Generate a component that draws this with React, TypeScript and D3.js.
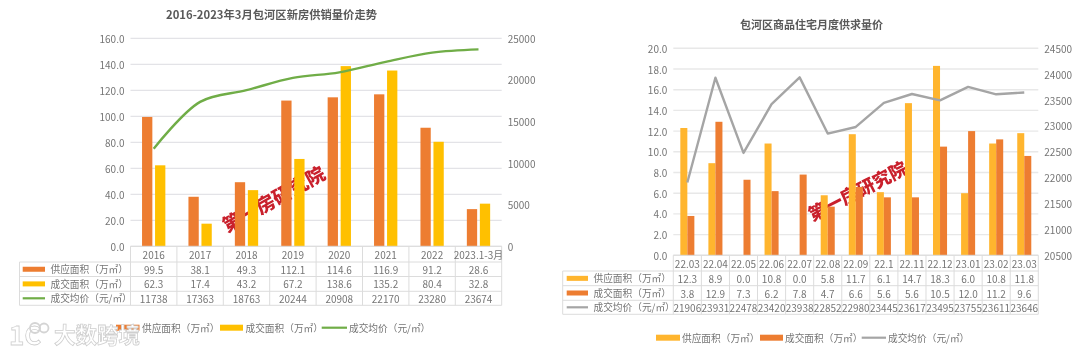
import React from "react";
import * as d3 from "d3";

// ---- left chart data
const yearCats = ["2016", "2017", "2018", "2019", "2020", "2021", "2022", "2023.1-3月"];
const yearSupply = [99.5, 38.1, 49.3, 112.1, 114.6, 116.9, 91.2, 28.6];
const yearDeal = [62.3, 17.4, 43.2, 67.2, 138.6, 135.2, 80.4, 32.8];
const yearPrice = [11738, 17363, 18763, 20244, 20908, 22170, 23280, 23674];
const yearAreaTicks = [0, 20, 40, 60, 80, 100, 120, 140, 160];
const yearPriceTicks = [0, 5000, 10000, 15000, 20000, 25000];

// ---- right chart data
const monthCats = ["22.03", "22.04", "22.05", "22.06", "22.07", "22.08", "22.09", "22.1", "22.11", "22.12", "23.01", "23.02", "23.03"];
const monthSupply = [12.3, 8.9, 0.0, 10.8, 0.0, 5.8, 11.7, 6.1, 14.7, 18.3, 6.0, 10.8, 11.8];
const monthDeal = [3.8, 12.9, 7.3, 6.2, 7.8, 4.7, 6.6, 5.6, 5.6, 10.5, 12.0, 11.2, 9.6];
const monthPrice = [21906, 23931, 22478, 23420, 23938, 22852, 22980, 23445, 23617, 23495, 23755, 23611, 23646];
const monthAreaTicks = [0, 2, 4, 6, 8, 10, 12, 14, 16, 18, 20];
const monthPriceTicks = [20500, 21000, 21500, 22000, 22500, 23000, 23500, 24000, 24500];

const FONT = "'Noto Sans CJK SC', 'Noto Sans', sans-serif";
const TXT = "#757575";
const ORANGE = "#ED7D31";
const AMBER = "#FFC000";
const GOLD = "#FFB52E";
const GREEN = "#70AD47";
const GRAY = "#A5A5A5";
const SUPPLY = "供应面积（万㎡）";
const DEAL = "成交面积（万㎡）";
const PRICE = "成交均价（元/㎡）";

type Series = { name: string; color: string; values: number[] };
type PanelProps = {
  cats: string[];
  bars: Series[];
  line: Series;
  areaTicks: number[];
  priceTicks: number[];
  plot: { l: number; r: number; t: number; b: number };
  tableL: number;
  rows: number[];
  swatchX: [number, number];
  labelX: number;
  outer: number;
  inner: number;
  smooth: boolean;
  gridColor: string;
  gridWidth: number;
  title: string;
  titleX: number;
  titleY: number;
  titleSize: number;
  legendY: number;
  legendItems: [number, number, number][];
  stamp: { x: number; y: number; angle: number; size: number };
  fs: number;
};

function Panel(p: PanelProps) {
  const x = d3.scaleBand<string>().domain(p.cats).range([p.plot.l, p.plot.r]);
  const sub = d3
    .scaleBand<string>()
    .domain(p.bars.map((b) => b.name))
    .range([0, x.bandwidth()])
    .paddingInner(p.inner)
    .paddingOuter(p.outer);
  const yL = d3
    .scaleLinear()
    .domain([p.areaTicks[0], p.areaTicks[p.areaTicks.length - 1]])
    .range([p.plot.b, p.plot.t]);
  const yR = d3
    .scaleLinear()
    .domain([p.priceTicks[0], p.priceTicks[p.priceTicks.length - 1]])
    .range([p.plot.b, p.plot.t]);
  const lineGen = d3
    .line<number>()
    .x((_, i) => x(p.cats[i])! + x.bandwidth() / 2)
    .y((d) => yR(d))
    .curve(p.smooth ? d3.curveCatmullRom.alpha(0.5) : d3.curveLinear);
  const f1 = d3.format(".1f");
  const rowSeries = [...p.bars, p.line];
  const tableColor = "#dcdcdc";
  return (
    <g fontFamily={FONT}>
      <text x={p.titleX} y={p.titleY} textAnchor="middle" fontSize={p.titleSize} fontWeight={700} fill="#595959">
        {p.title}
      </text>
      {p.areaTicks.map((t) => (
        <line key={t} x1={p.plot.l} x2={p.plot.r} y1={yL(t)} y2={yL(t)} stroke={p.gridColor} strokeWidth={p.gridWidth} />
      ))}
      <text
        transform={`translate(${p.stamp.x},${p.stamp.y}) rotate(${p.stamp.angle})`}
        textAnchor="middle"
        dominantBaseline="central"
        fontSize={p.stamp.size}
        fontWeight={900}
        fill="#c9202c"
        stroke="#ffffff"
        strokeWidth={1.4}
        paintOrder="stroke"
      >
        第一房研究院
      </text>
      {p.bars.map((s) =>
        s.values.map((v, i) => (
          <rect
            key={s.name + i}
            x={x(p.cats[i])! + sub(s.name)!}
            width={sub.bandwidth()}
            y={yL(v)}
            height={p.plot.b - yL(v)}
            fill={s.color}
          />
        ))
      )}
      <path d={lineGen(p.line.values) || ""} fill="none" stroke={p.line.color} strokeWidth={2.4} strokeLinejoin="round" />
      {p.areaTicks.map((t) => (
        <text key={t} x={p.plot.l - 6} y={yL(t)} textAnchor="end" dominantBaseline="central" fontSize={p.fs} fill={TXT}>
          {f1(t)}
        </text>
      ))}
      {p.priceTicks.map((t) => (
        <text key={t} x={p.plot.r + 6} y={yR(t)} textAnchor="start" dominantBaseline="central" fontSize={p.fs} fill={TXT}>
          {t}
        </text>
      ))}

      {/* data table */}
      {p.rows.map((ry, i) => (
        <line key={i} x1={i === 0 ? p.plot.l : p.tableL} x2={p.plot.r} y1={ry} y2={ry} stroke={tableColor} />
      ))}
      <line x1={p.tableL} x2={p.tableL} y1={p.rows[1]} y2={p.rows[4]} stroke={tableColor} />
      {[...p.cats.map((c) => x(c)!), p.plot.r].map((cx, i) => (
        <line key={i} x1={cx} x2={cx} y1={p.rows[0]} y2={p.rows[4]} stroke={tableColor} />
      ))}
      {p.cats.map((c) => (
        <text
          key={c}
          x={x(c)! + x.bandwidth() / 2}
          y={(p.rows[0] + p.rows[1]) / 2}
          textAnchor="middle"
          dominantBaseline="central"
          fontSize={p.fs}
          fill={TXT}
        >
          {c}
        </text>
      ))}
      {rowSeries.map((s, r) => {
        const cy = (p.rows[r + 1] + p.rows[r + 2]) / 2;
        const isLine = r === 2;
        return (
          <g key={s.name}>
            {isLine ? (
              <line x1={p.swatchX[0]} x2={p.swatchX[1]} y1={cy} y2={cy} stroke={s.color} strokeWidth={2.2} />
            ) : (
              <rect x={p.swatchX[0]} width={p.swatchX[1] - p.swatchX[0]} y={cy - 2.5} height={5} fill={s.color} />
            )}
            <text x={p.labelX} y={cy} dominantBaseline="central" fontSize={p.fs - 0.3} fill={TXT}>
              {s.name}
            </text>
            {s.values.map((v, i) => (
              <text
                key={i}
                x={x(p.cats[i])! + x.bandwidth() / 2}
                y={cy}
                textAnchor="middle"
                dominantBaseline="central"
                fontSize={p.fs}
                fill={TXT}
              >
                {isLine ? String(v) : f1(v)}
              </text>
            ))}
          </g>
        );
      })}

      {/* legend */}
      {rowSeries.map((s, r) => {
        const [x0, x1, tx] = p.legendItems[r];
        return (
          <g key={s.name}>
            {r === 2 ? (
              <line x1={x0} x2={x1} y1={p.legendY} y2={p.legendY} stroke={s.color} strokeWidth={2.2} />
            ) : (
              <rect x={x0} width={x1 - x0} y={p.legendY - 3} height={6} fill={s.color} />
            )}
            <text x={tx} y={p.legendY} dominantBaseline="central" fontSize={p.fs - 0.3} fill={TXT}>
              {s.name}
            </text>
          </g>
        );
      })}
    </g>
  );
}

export default function App() {
  return (
    <svg
      width={1080}
      height={354}
      style={{ position: "absolute", left: 0, top: 0, display: "block", background: "#fff", filter: "blur(0.35px)" }}
    >
      <Panel
        cats={yearCats}
        bars={[
          { name: SUPPLY, color: ORANGE, values: yearSupply },
          { name: DEAL, color: AMBER, values: yearDeal },
        ]}
        line={{ name: PRICE, color: GREEN, values: yearPrice }}
        areaTicks={yearAreaTicks}
        priceTicks={yearPriceTicks}
        plot={{ l: 130.5, r: 501.7, t: 38.3, b: 246.3 }}
        tableL={19.5}
        rows={[246.3, 262, 276.5, 291.3, 305.3]}
        swatchX={[22.7, 45]}
        labelX={50.5}
        outer={0.888}
        inner={0.208}
        smooth={true}
        gridColor="#dcdce2"
        gridWidth={1}
        title="2016-2023年3月包河区新房供销量价走势"
        titleX={271.5}
        titleY={19}
        titleSize={11.3}
        legendY={327.7}
        legendItems={[
          [116, 139.5, 142],
          [220, 243, 245.5],
          [321.7, 347, 349],
        ]}
        stamp={{ x: 273, y: 198, angle: -29, size: 19 }}
        fs={10}
      />
      <Panel
        cats={monthCats}
        bars={[
          { name: SUPPLY, color: GOLD, values: monthSupply },
          { name: DEAL, color: ORANGE, values: monthDeal },
        ]}
        line={{ name: PRICE, color: GRAY, values: monthPrice }}
        areaTicks={monthAreaTicks}
        priceTicks={monthPriceTicks}
        plot={{ l: 673.3, r: 1038.3, t: 48.3, b: 255.3 }}
        tableL={562.7}
        rows={[255.3, 271, 285.7, 300.3, 314.3]}
        swatchX={[566.7, 588]}
        labelX={593.5}
        outer={1}
        inner={0}
        smooth={false}
        gridColor="#e8e8e8"
        gridWidth={1.4}
        title="包河区商品住宅月度供求量价"
        titleX={811.5}
        titleY={29}
        titleSize={11}
        legendY={337.7}
        legendItems={[
          [656, 680, 682],
          [760, 783, 785],
          [861.7, 886, 888],
        ]}
        stamp={{ x: 857, y: 190, angle: -27, size: 18 }}
        fs={10}
      />
      {/* site watermark */}
      <g fontFamily={FONT} fill="#ffffff" stroke="#cfcfcf" strokeWidth={0.8}>
        <text x={9} y={345} fontSize={26} fontWeight={700}>
          1C
        </text>
        <circle cx={35} cy={328} r={5} fill="none" stroke="#d4d4d4" strokeWidth={1.8} />
        <circle cx={44} cy={328} r={4.5} fill="none" stroke="#d4d4d4" strokeWidth={1.8} />
        <text x={54} y={343} fontSize={21.5} fontWeight={700}>
          大数跨境
        </text>
      </g>
    </svg>
  );
}
